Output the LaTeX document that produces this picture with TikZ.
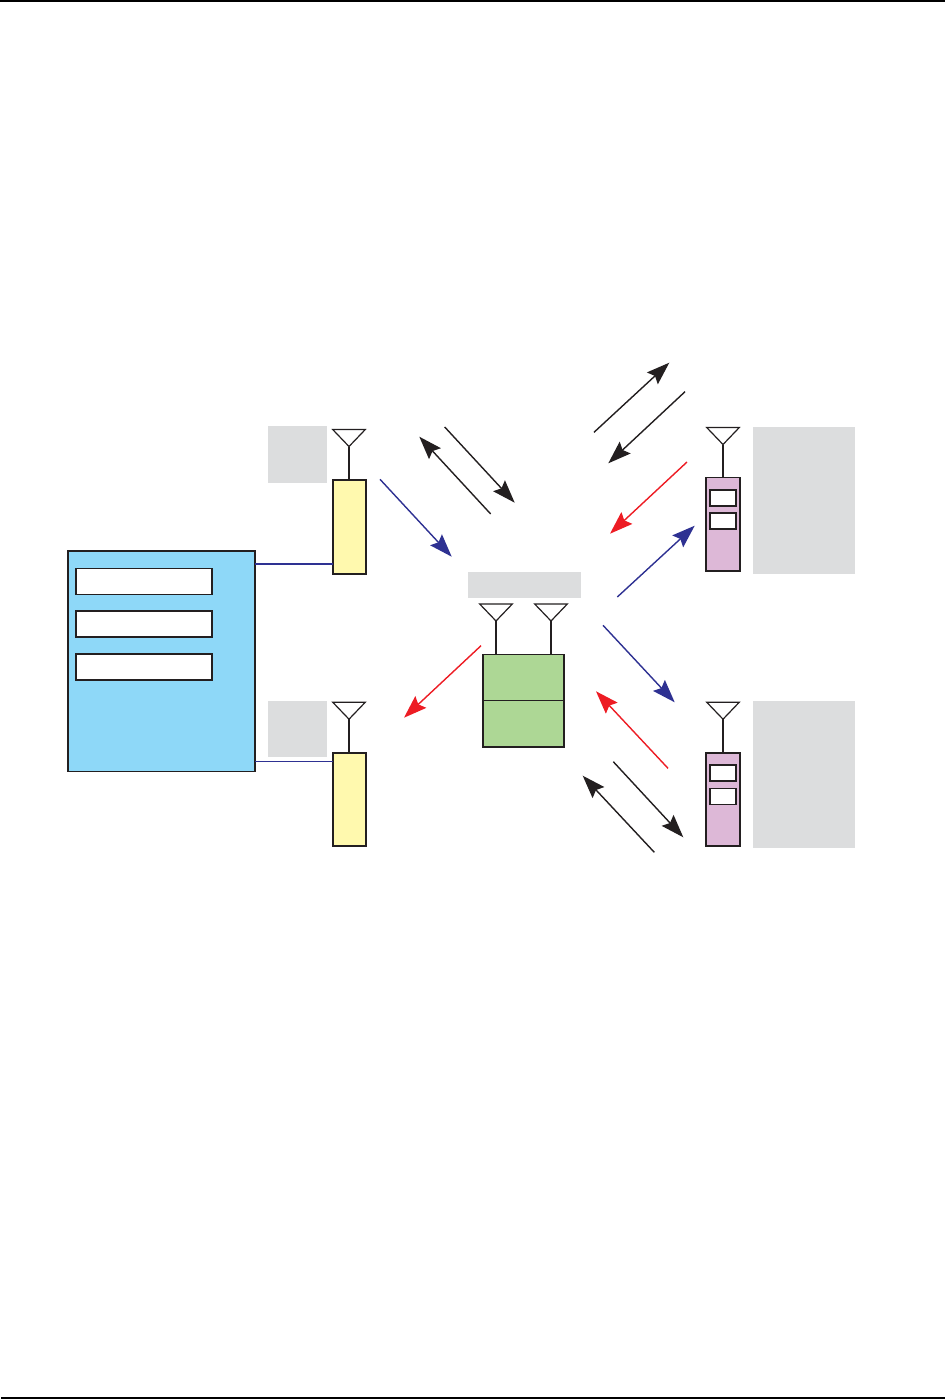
\documentclass[tikz,border=0pt]{standalone}
\usepackage{tikz}
\usetikzlibrary{arrows.meta}
\definecolor{ctrlblue}{HTML}{8ED8F8}
\definecolor{radioyellow}{HTML}{FFF9AE}
\definecolor{relaygreen}{HTML}{ADD795}
\definecolor{phonepink}{HTML}{DDB8D7}
\definecolor{notegray}{HTML}{DCDDDE}
\definecolor{linknavy}{HTML}{2E3192}
\definecolor{linkred}{HTML}{ED1C24}
\definecolor{inkblack}{HTML}{231F20}
\begin{document}
\begin{tikzpicture}[x=1pt, y=-1pt,
	every node/.style={inner sep=0pt, outer sep=0pt, anchor=north west},
	unit/.style={draw=inkblack, line width=1.8pt},
	notebox/.style={fill=notegray},
	slot/.style={unit, fill=white, line width=1.4pt},
	radio/.style={unit, fill=radioyellow, minimum width=33pt, minimum height=93.5pt},
	phone/.style={unit, fill=phonepink, minimum width=34pt, minimum height=93.5pt},
	phoneslot/.style={slot, minimum width=26pt, minimum height=16pt},
	ctrlslot/.style={slot, minimum width=136pt, minimum height=26pt},
	antenna/.style={draw=inkblack, line width=1.2pt, fill=white, line join=miter},
	stem/.style={draw=inkblack, line width=1.7pt},
	signal/.style={line width=1.4pt, -{Stealth[length=23pt, width=16pt, inset=3.5pt]}},
	]
	\useasboundingbox (0,0) rectangle (945,1399);
	% page rules
	\fill[black] (0,0) rectangle (945,2);
	\fill[black] (1,1397) rectangle (945,1399);
	% grey label areas
	\node[notebox, minimum width=59pt, minimum height=57pt] (noteA) at (268,426) {};
	\node[notebox, minimum width=59pt, minimum height=56pt] (noteB) at (268,701) {};
	\node[notebox, minimum width=113pt, minimum height=26pt] (noteRelay) at (468,572) {};
	\node[notebox, minimum width=102pt, minimum height=147pt] (notePhoneA) at (753,427) {};
	\node[notebox, minimum width=102pt, minimum height=147pt] (notePhoneB) at (753,701) {};
	% controller
	\node[unit, fill=ctrlblue, minimum width=187pt, minimum height=220.5pt] (ctrl) at (68,551) {};
	\node[ctrlslot] (ctrlA) at (76,568.7) {};
	\node[ctrlslot] (ctrlB) at (76,611) {};
	\node[ctrlslot] (ctrlC) at (76,654) {};
	% radios
	\node[radio] (radioA) at (332.7,480.3) {};
	\node[radio] (radioB) at (332.7,752.7) {};
	% relay
	\node[unit, fill=relaygreen, line width=1.4pt, minimum width=81pt, minimum height=92.5pt] (relay) at (482.8,654.6) {};
	\draw[inkblack, line width=1.1pt] (relay.west) -- (relay.east);
	% phones
	\node[phone] (phoneA) at (706,477.4) {};
	\node[phoneslot] (phoneAa) at (709.8,489.8) {};
	\node[phoneslot] (phoneAb) at (709.8,513) {};
	\node[phone] (phoneB) at (706,752.7) {};
	\node[phoneslot] (phoneBa) at (709.8,765) {};
	\node[phoneslot] (phoneBb) at (709.8,788.3) {};
	% links to the radios
	\coordinate (linkA) at (255,564);
	\coordinate (linkB) at (255,761.3);
	\draw[linknavy, line width=1.5pt] (linkA) -- (radioA.west |- linkA);
	\draw[linknavy, line width=0.9pt] (linkB) -- (radioB.west |- linkB);
	% antennas
	\foreach \n/\b/\ax/\ay in {a/radioA/349/429.5, b/radioB/349/702.2, c/relay/496/604, d/relay/551/604, e/phoneA/723/427.5, f/phoneB/723/702.2} {
		\coordinate (tip\n) at (\ax,\ay+17);
		\draw[antenna] (\ax-16.3,\ay) -- (\ax+16.3,\ay) -- (tip\n) -- cycle;
		\draw[stem] (tip\n) -- (tip\n |- \b.north);
	}
	% signals
	\foreach \n/\col/\sx/\sy/\ex/\ey in {
		kA/inkblack/594/432.3/669.3/362.7,
		kB/inkblack/685/391.7/608.3/463.3,
		kC/inkblack/444.7/427/514.7/502.7,
		kD/inkblack/490.7/514/419.3/436.7,
		kE/inkblack/613.3/761.7/683.3/837.3,
		kF/inkblack/654.3/852.3/582.7/775.7,
		nA/linknavy/380/479.3/451.7/556.7,
		nB/linknavy/617.3/597/694.7/525.7,
		nC/linknavy/603/625.3/674.7/702.3,
		rA/linkred/687/462/610/533.7,
		rB/linkred/668/768.3/596/691.3,
		rC/linkred/481/645.7/404/717.7} {
		\coordinate (\n from) at (\sx,\sy);
		\coordinate (\n to) at (\ex,\ey);
		\draw[signal, draw=\col, fill=\col] (\n from) -- (\n to);
	}
\end{tikzpicture}
\end{document}
